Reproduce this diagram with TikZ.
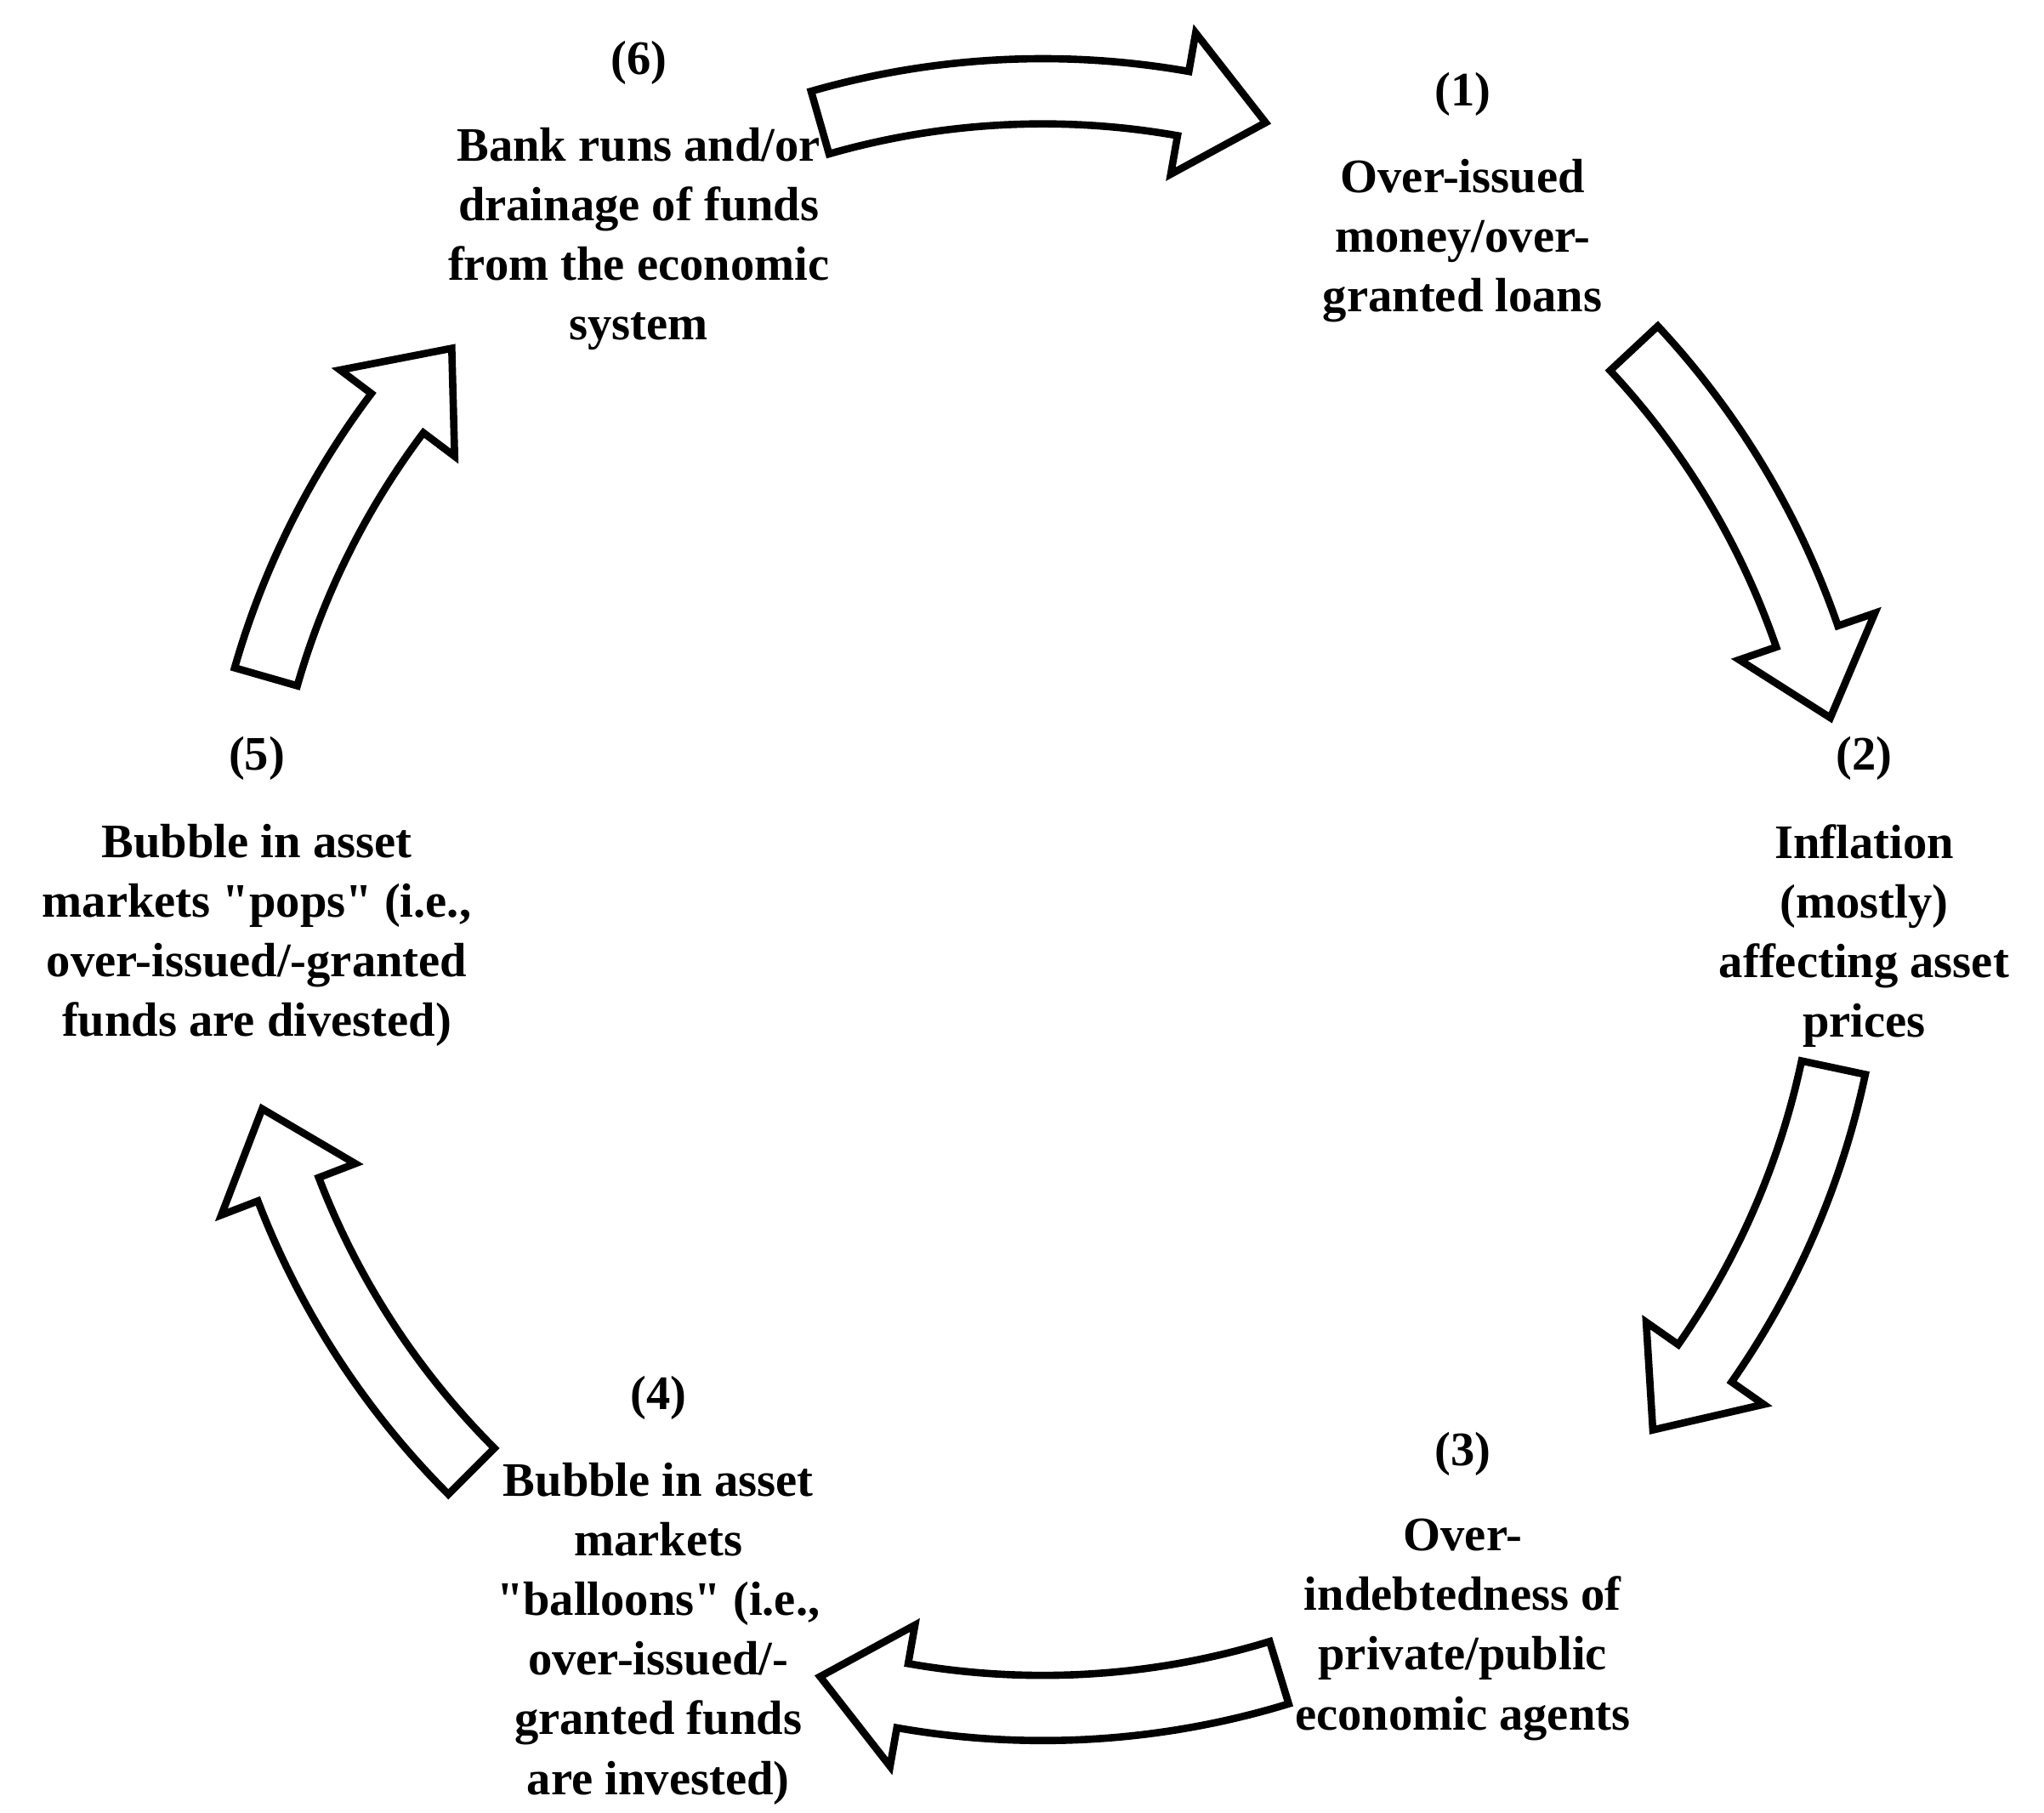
\documentclass[tikz,border=0pt]{standalone}
\usepackage{fontspec}
\setmainfont{Liberation Serif}
\usetikzlibrary{positioning}
\tikzset{
  stage/.style={font=\bfseries\fontsize{10.5}{13}\selectfont, align=center, inner sep=1pt},
  num/.style={font=\bfseries\fontsize{10.5}{13}\selectfont, inner sep=1pt},
  blockarrow/.style={draw=black, fill=white, line width=1.6pt, line join=miter}
}
% curved block arrow, clockwise from #1 to #2 (degrees)
\newcommand\cycarrow[2]{%
  \draw[blockarrow] (#1:6.45) arc[start angle=#1, end angle={#2+6}, radius=6.45]
    -- ({#2+6}:6.75) -- (#2:6.2) -- ({#2+6}:5.65) -- ({#2+6}:5.95)
    arc[start angle={#2+6}, end angle=#1, radius=5.95] -- cycle;}
\begin{document}
\begin{tikzpicture}
\useasboundingbox (-8.0,-7.0) rectangle (7.68,6.9);
\cycarrow{106}{74}
\cycarrow{43}{13}
\cycarrow{-12}{-41}
\cycarrow{-73}{-106}
\cycarrow{-135}{-165}
\cycarrow{164}{137}
\node[num] (n1) at (3.22,6.18) {(1)};
\node[stage] (s1) [below=0.25cm of n1] {Over-issued\\money/over-\\granted loans};
\node[num] (n2) at (6.30,1.08) {(2)};
\node[stage] (s2) [below=0.25cm of n2] {Inflation\\(mostly)\\affecting asset\\prices};
\node[num] (n3) at (3.22,-4.25) {(3)};
\node[stage] (s3) [below=0.25cm of n3] {Over-\\indebtedness of\\private/public\\economic agents};
\node[num] (n4) at (-2.95,-3.82) {(4)};
\node[stage] (s4) [below=0.25cm of n4] {Bubble in asset\\markets\\\textquotedbl balloons\textquotedbl{} (i.e.,\\over-issued/-\\granted funds\\are invested)};
\node[num] (n5) at (-6.03,1.08) {(5)};
\node[stage] (s5) [below=0.25cm of n5] {Bubble in asset\\markets \textquotedbl pops\textquotedbl{} (i.e.,\\over-issued/-granted\\funds are divested)};
\node[num] (n6) at (-3.10,6.42) {(6)};
\node[stage] (s6) [below=0.25cm of n6] {Bank runs and/or\\drainage of funds\\from the economic\\system};
\end{tikzpicture}
\end{document}
